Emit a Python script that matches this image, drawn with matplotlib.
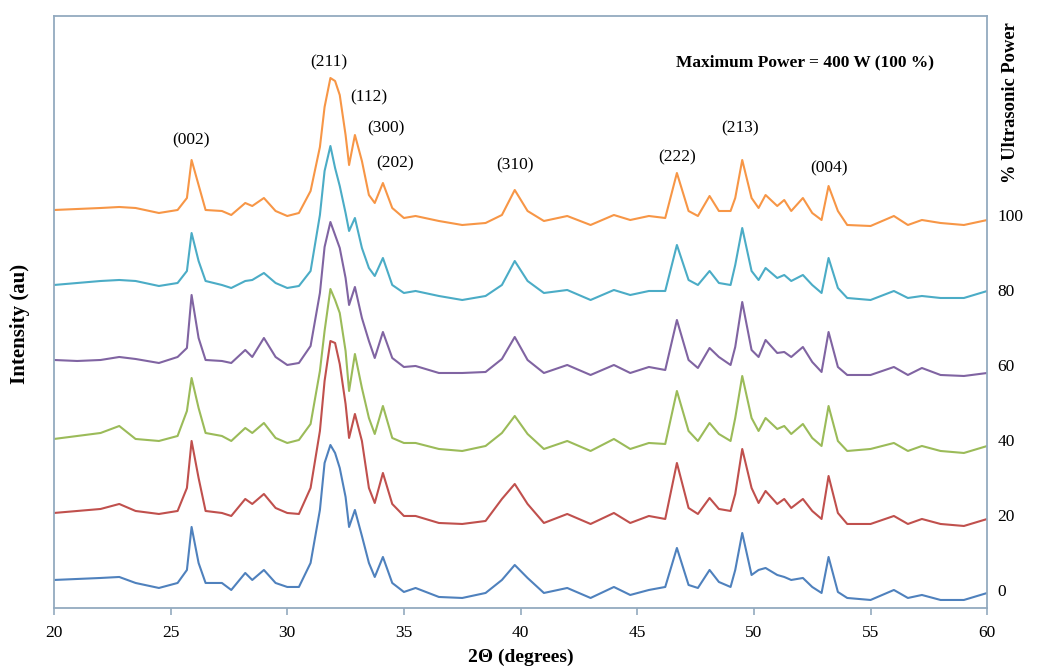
import matplotlib
matplotlib.use("Agg")
import matplotlib.pyplot as plt
import numpy as np

two_theta = [20, 21, 22, 22.8, 23.5, 24.5, 25.3, 25.7, 25.9, 26.2,
             26.5, 27.2, 27.6, 28.2, 28.5, 29.0, 29.5, 30.0, 30.5, 31.0,
             31.4, 31.6, 31.85, 32.05, 32.25, 32.5, 32.65, 32.9, 33.2, 33.5,
             33.75, 34.1, 34.5, 35.0, 35.5, 36.5, 37.5, 38.5, 39.2, 39.75,
             40.3, 41.0, 42.0, 43.0, 44.0, 44.7, 45.5, 46.2, 46.7, 47.2,
             47.6, 48.1, 48.5, 49.0, 49.2, 49.5, 49.9, 50.2, 50.5, 51.0,
             51.3, 51.6, 52.1, 52.5, 52.9, 53.2, 53.6, 54.0, 55.0, 56.0,
             56.6, 57.2, 58.0, 59.0, 60.0]

# intensity (au) of each sample above its own baseline
p0 = [18, 19, 20, 21, 15, 10, 15, 28, 71, 35,
      15, 15, 8, 25, 18, 28, 15, 11, 11, 35,
      88, 135, 153, 145, 130, 101, 71, 88, 62, 35,
      21, 41, 15, 6, 10, 1, 0, 5, 18, 33,
      20, 5, 10, 0, 11, 3, 8, 11, 50, 13,
      10, 28, 16, 11, 28, 65, 23, 28, 30, 23,
      21, 18, 20, 11, 5, 41, 6, 0, -2, 8,
      0, 3, -2, -2, 5]
p20 = [10, 12, 14, 19, 12, 9, 12, 35, 82, 45,
       12, 10, 7, 24, 19, 29, 15, 10, 9, 35,
       92, 142, 182, 180, 159, 119, 85, 109, 82, 35,
       20, 50, 19, 7, 7, 0, -1, 2, 24, 39,
       19, 0, 9, -1, 10, 0, 7, 4, 60, 15,
       9, 25, 14, 12, 29, 74, 35, 20, 32, 19,
       24, 15, 24, 12, 4, 47, 10, -1, -1, 7,
       -1, 4, -1, -3, 4]
p40 = [9, 12, 15, 22, 9, 7, 12, 37, 70, 40,
       15, 12, 7, 20, 15, 25, 10, 5, 8, 24,
       77, 117, 159, 148, 135, 97, 57, 94, 60, 30,
       14, 42, 10, 5, 5, -1, -3, 2, 15, 32,
       14, -1, 7, -3, 9, -1, 5, 4, 57, 17,
       7, 25, 14, 7, 30, 72, 30, 17, 30, 19,
       22, 14, 24, 10, 2, 42, 7, -3, -1, 5,
       -3, 2, -3, -5, 2]
p60 = [13, 12, 13, 16, 14, 10, 16, 25, 78, 35,
       13, 12, 10, 23, 16, 35, 16, 8, 10, 27,
       80, 126, 151, 138, 125, 95, 68, 86, 55, 32,
       15, 41, 15, 6, 7, 0, 0, 1, 14, 36,
       13, 0, 8, -2, 8, 0, 6, 3, 53, 13,
       5, 25, 16, 8, 26, 71, 23, 16, 33, 20,
       21, 16, 26, 11, 1, 41, 6, -2, -2, 6,
       -2, 5, -2, -3, 0]
p80 = [13, 15, 17, 18, 17, 12, 15, 27, 65, 37,
       17, 13, 10, 17, 18, 25, 15, 10, 12, 27,
       83, 127, 152, 130, 112, 85, 67, 80, 50, 30,
       22, 40, 13, 5, 7, 2, -2, 2, 13, 37,
       17, 5, 8, -2, 8, 3, 7, 7, 53, 18,
       13, 27, 15, 13, 33, 70, 27, 18, 30, 20,
       23, 17, 23, 13, 5, 40, 10, 0, -2, 7,
       0, 2, 0, 0, 7]
p100 = [13, 14, 15, 16, 15, 10, 13, 25, 63, 38,
        13, 12, 8, 20, 17, 25, 12, 7, 10, 32,
        76, 116, 145, 142, 128, 88, 58, 88, 62, 28,
        20, 40, 15, 5, 7, 2, -2, 0, 8, 33,
        12, 2, 7, -2, 8, 3, 7, 5, 50, 12,
        7, 27, 12, 12, 25, 63, 25, 15, 28, 17,
        23, 12, 25, 10, 3, 37, 12, -2, -3, 7,
        -2, 3, 0, -2, 3]

power_labels = ["0", "20", "40", "60", "80", "100"]
patterns = [p0, p20, p40, p60, p80, p100]
colors = ["#4F81BD", "#C0504D", "#9BBB59", "#8064A2", "#4BACC6", "#F79646"]
step = 75  # vertical stacking offset

# hkl labels: (text, 2theta, height in au)
hkl = [("(002)", 25.86, 458), ("(211)", 31.78, 536), ("(112)", 33.48, 501),
       ("(300)", 34.24, 470), ("(202)", 34.6, 435), ("(310)", 39.75, 433),
       ("(222)", 46.7, 441), ("(213)", 49.4, 470), ("(004)", 53.2, 430)]

serif = "Liberation Serif"
frame = "#93AABF"

fig = plt.figure(figsize=(10.37, 6.67), dpi=100)
ax = fig.add_axes([0.052, 0.0885, 0.9, 0.8875])

for i, p in enumerate(patterns):
    ax.plot(two_theta, np.array(p) + i * step, color=colors[i], lw=1.5)
    ax.text(60.45, i * step + 6, power_labels[i], ha="left", va="center",
            fontsize=12.5, family=serif, clip_on=False)

for lab, xx, yy in hkl:
    ax.text(xx, yy, lab, ha="center", va="center", fontsize=12.5, family=serif)

ax.text(52.2, 536, "Maximum Power = 400 W (100 %)", ha="center", va="center",
        fontsize=12.5, family=serif, fontweight="bold")

ax.set_xlim(20, 60)
ax.set_ylim(-10, 582)
ax.set_xticks(np.arange(20, 61, 5))
ax.set_yticks([])
for s in ax.spines.values():
    s.set_color(frame)
    s.set_linewidth(1.3)
ax.tick_params(axis="x", direction="out", length=5, width=1.2, color=frame,
               pad=7, labelsize=12.5)
for t in ax.get_xticklabels():
    t.set_family(serif)

ax.set_xlabel("2\u0398 (degrees)", fontsize=14, family=serif, fontweight="bold",
              labelpad=6)
fig.text(0.019, 0.514, "Intensity (au)", rotation=90, ha="center", va="center",
         fontsize=15, family=serif, fontweight="bold")
fig.text(0.974, 0.846, "% Ultrasonic Power", rotation=90, ha="center", va="center",
         fontsize=13.3, family=serif, fontweight="bold")

fig.savefig("out.png", dpi=100)
